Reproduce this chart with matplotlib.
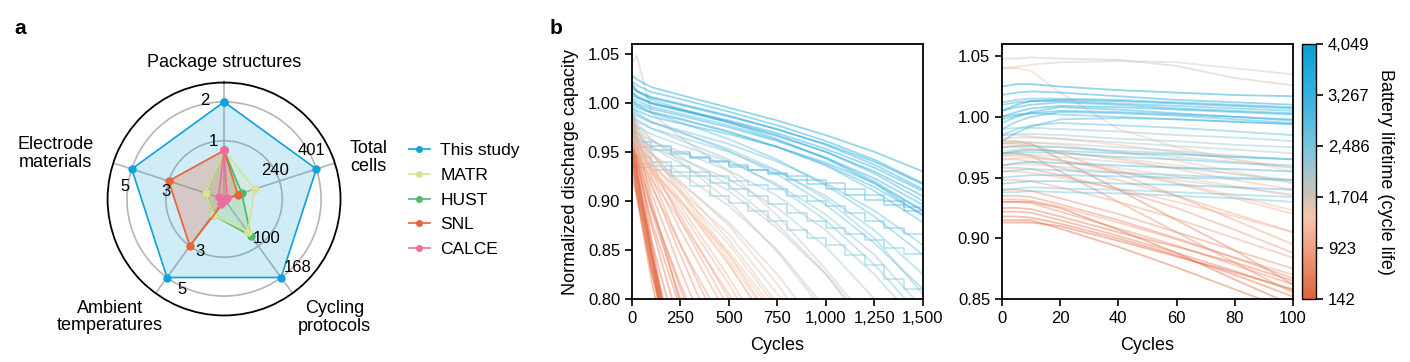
import matplotlib
matplotlib.use("Agg")
import matplotlib.pyplot as plt
import numpy as np
from matplotlib.colors import LinearSegmentedColormap, Normalize
from matplotlib.lines import Line2D
from matplotlib.ticker import FuncFormatter

plt.rcParams['font.family'] = ['Liberation Sans', 'DejaVu Sans']

# ---- panel a: radar data ----
categories = ['Package structures', 'Total cells', 'Cycling protocols',
              'Ambient temperatures', 'Electrode materials']
cat_max = [2, 401, 168, 5, 5]
ring_labels = [['1', '2'], ['240', '401'], ['100', '168'], ['3', '5'], ['3', '5']]
datasets = ['This study', 'MATR', 'HUST', 'SNL', 'CALCE']
ds_colors = ['#12a3db', '#d8e29a', '#4cba6b', '#e8643a', '#f06ca0']
this_study = [2, 401, 168, 5, 5]
matr = [1, 134, 70, 1, 1]
hust = [1, 77, 79, 1, 1]
snl = [1, 60, 3, 3, 3]
calce = [1, 13, 3, 0.3, 0.3]

# ---- panel b: capacity curves (cycles 0-1500) ----
cyc_long = [0, 25, 100, 250, 500, 750, 1000, 1250, 1500]
long_life = [3900, 3850, 3700, 3650, 3600, 3500, 3450, 3400, 3300, 3250, 3100,
             3050, 2900, 2850, 2700, 2650, 2500, 2450, 2400, 2300, 2200, 2100,
             2000, 1950, 1850, 1800, 1750, 1700, 1650, 1600, 1550, 1500, 1450,
             1400, 1350, 1300, 1250, 1200, 1150, 1100, 1050, 1000, 950, 900,
             850, 800, 750, 700, 650, 600, 550, 500, 450, 420, 400, 380, 350,
             320, 300, 270, 250, 220, 200, 180, 160, 150, 145, 142]
long_cap = [
    [1.028, 1.024, 1.016, 1.008, 0.995, 0.982, 0.967, 0.950, 0.930],
    [1.020, 1.012, 1.005, 0.998, 0.986, 0.973, 0.958, 0.940, 0.917],
    [1.022, 1.018, 1.011, 1.004, 0.991, 0.977, 0.961, 0.942, 0.918],
    [1.012, 1.006, 1.000, 0.993, 0.982, 0.969, 0.953, 0.934, 0.910],
    [1.008, 1.005, 0.999, 0.992, 0.980, 0.966, 0.950, 0.930, 0.905],
    [1.015, 1.012, 1.006, 0.999, 0.987, 0.973, 0.957, 0.937, 0.912],
    [1.003, 0.999, 0.994, 0.987, 0.975, 0.961, 0.944, 0.923, 0.896],
    [0.995, 0.992, 0.986, 0.979, 0.968, 0.955, 0.939, 0.918, 0.890],
    [1.010, 1.007, 1.000, 0.993, 0.981, 0.967, 0.950, 0.928, 0.900],
    [0.998, 0.995, 0.990, 0.983, 0.970, 0.955, 0.937, 0.914, 0.886],
    [1.005, 1.002, 0.996, 0.989, 0.977, 0.962, 0.944, 0.920, 0.890],
    [1.018, 1.012, 1.003, 0.994, 0.980, 0.963, 0.943, 0.918, 0.885],
    [1.000, 0.997, 0.991, 0.984, 0.971, 0.955, 0.936, 0.910, 0.878],
    [1.002, 0.998, 0.990, 0.980, 0.963, 0.942, 0.916, 0.884, 0.845],
    [0.990, 0.987, 0.980, 0.972, 0.958, 0.940, 0.918, 0.890, 0.855],
    [0.995, 0.990, 0.981, 0.970, 0.951, 0.927, 0.896, 0.857, 0.810],
    [0.985, 0.981, 0.974, 0.965, 0.950, 0.930, 0.905, 0.870, 0.825],
    [0.988, 0.983, 0.974, 0.962, 0.942, 0.915, 0.880, 0.835, 0.780],
    [0.992, 0.988, 0.980, 0.970, 0.953, 0.931, 0.902, 0.862, 0.805],
    [0.980, 0.976, 0.968, 0.957, 0.940, 0.917, 0.886, 0.845, 0.790],
    [0.975, 0.970, 0.961, 0.950, 0.931, 0.905, 0.870, 0.825, 0.770],
    [0.970, 0.965, 0.955, 0.943, 0.922, 0.893, 0.853, 0.800, 0.740],
    [0.975, 0.968, 0.955, 0.938, 0.910, 0.872, 0.825, 0.760],
    [0.982, 0.975, 0.962, 0.945, 0.916, 0.876, 0.826, 0.765],
    [0.970, 0.962, 0.948, 0.928, 0.895, 0.850, 0.790],
    [0.990, 0.980, 0.963, 0.940, 0.900, 0.848, 0.785],
    [1.040, 1.048, 0.990, 0.965, 0.930, 0.885, 0.830, 0.770],
    [0.968, 0.958, 0.942, 0.918, 0.878, 0.825, 0.760],
    [0.975, 0.965, 0.947, 0.920, 0.875, 0.815, 0.745],
    [0.965, 0.955, 0.937, 0.910, 0.866, 0.805, 0.740],
    [0.985, 0.972, 0.950, 0.916, 0.860, 0.795, 0.730],
    [0.972, 0.960, 0.940, 0.908, 0.856, 0.790, 0.720],
    [0.968, 0.955, 0.933, 0.900, 0.848, 0.785],
    [0.960, 0.950, 0.930, 0.898, 0.845, 0.780],
    [0.992, 0.978, 0.950, 0.908, 0.840, 0.770],
    [0.978, 0.965, 0.940, 0.902, 0.836, 0.760],
    [0.982, 0.970, 0.948, 0.912, 0.845, 0.770],
    [0.958, 0.950, 0.932, 0.900, 0.835, 0.760],
    [0.970, 0.958, 0.935, 0.895, 0.822, 0.740],
    [0.965, 0.955, 0.930, 0.890, 0.815, 0.730],
    [0.960, 0.948, 0.922, 0.880, 0.805, 0.720],
    [0.975, 0.962, 0.932, 0.885, 0.800],
    [0.995, 0.975, 0.940, 0.880, 0.790],
    [0.985, 0.965, 0.930, 0.870, 0.780],
    [0.970, 0.952, 0.915, 0.855, 0.765],
    [0.990, 0.968, 0.925, 0.855, 0.750],
    [0.988, 0.962, 0.918, 0.845, 0.730],
    [0.980, 0.955, 0.908, 0.830, 0.710],
    [0.965, 0.940, 0.892, 0.815, 0.700],
    [0.975, 0.948, 0.895, 0.810, 0.690],
    [0.985, 0.952, 0.890, 0.800],
    [0.970, 0.940, 0.880, 0.790],
    [0.995, 0.960, 0.900, 0.795],
    [0.975, 0.940, 0.875, 0.770],
    [0.960, 0.925, 0.860, 0.750],
    [0.945, 0.912, 0.848, 0.730],
    [0.955, 0.915, 0.845, 0.720],
    [0.965, 0.925, 0.845, 0.710],
    [0.975, 0.930, 0.850, 0.700],
    [0.985, 0.935, 0.845, 0.690],
    [0.950, 0.905, 0.820, 0.680],
    [0.960, 0.925, 0.850, 0.650],
    [0.945, 0.915, 0.840, 0.700],
    [0.975, 0.935, 0.850, 0.700],
    [0.935, 0.910, 0.830, 0.700],
    [0.955, 0.925, 0.835, 0.700],
    [0.990, 0.950, 0.860, 0.700],
    [0.925, 0.905, 0.830, 0.700],
]

# stepwise curves (periodic capacity checks), cycles 0,100,...,1500
cyc_step = [0, 100, 200, 300, 400, 500, 600, 700, 800, 900, 1000, 1100,
            1200, 1300, 1400, 1500]
step_life = [3200, 3000, 2800, 2700, 2600]
step_cap = [
    [0.960, 0.956, 0.950, 0.945, 0.941, 0.937, 0.932, 0.927, 0.921, 0.917, 0.912, 0.906, 0.901, 0.896, 0.890, 0.885],
    [0.955, 0.952, 0.948, 0.944, 0.940, 0.935, 0.932, 0.928, 0.925, 0.921, 0.918, 0.912, 0.906, 0.900, 0.894, 0.887],
    [0.945, 0.940, 0.936, 0.930, 0.925, 0.920, 0.916, 0.912, 0.905, 0.900, 0.895, 0.888, 0.880, 0.872, 0.866, 0.860],
    [0.935, 0.936, 0.930, 0.925, 0.918, 0.912, 0.905, 0.897, 0.888, 0.880, 0.872, 0.866, 0.860, 0.852, 0.846, 0.840],
    [0.938, 0.932, 0.925, 0.915, 0.905, 0.898, 0.890, 0.880, 0.870, 0.862, 0.855, 0.845, 0.835, 0.820, 0.810, 0.800],
]

# first 100 cycles
cyc_short = [0, 5, 10, 20, 40, 60, 80, 100]
short_life = [4000, 3950, 3800, 3750, 3600, 3550, 3500, 3400, 3350, 3300, 3200,
              3150, 3100, 3000, 2950, 2900, 2800, 2750, 2700, 2600, 2550, 2500,
              2350, 2200, 2100, 2000, 1900, 1800, 1750, 1700, 1650, 1600, 1500,
              1400, 1350, 1300, 1250, 1200, 1150, 1100, 1000, 950, 900, 850,
              800, 750, 700, 650, 600, 500, 450, 400, 300, 250, 200, 160]
short_cap = [
    [1.025, 1.027, 1.027, 1.025, 1.022, 1.020, 1.018, 1.017],
    [1.005, 1.010, 1.013, 1.014, 1.013, 1.011, 1.009, 1.007],
    [1.018, 1.020, 1.021, 1.020, 1.017, 1.014, 1.012, 1.010],
    [1.000, 1.004, 1.007, 1.009, 1.008, 1.006, 1.004, 1.002],
    [1.005, 1.008, 1.010, 1.012, 1.010, 1.007, 1.005, 1.003],
    [0.998, 1.001, 1.003, 1.005, 1.004, 1.002, 1.000, 0.997],
    [0.995, 1.000, 1.004, 1.008, 1.006, 1.003, 1.000, 0.998],
    [1.010, 1.012, 1.013, 1.013, 1.011, 1.009, 1.007, 1.005],
    [1.012, 1.014, 1.015, 1.015, 1.014, 1.012, 1.010, 1.008],
    [0.990, 0.996, 1.000, 1.004, 1.003, 1.001, 0.998, 0.995],
    [0.960, 0.962, 0.963, 0.962, 0.960, 0.958, 0.957, 0.955],
    [0.980, 0.987, 0.992, 0.998, 0.999, 0.998, 0.996, 0.994],
    [1.000, 1.002, 1.003, 1.002, 1.000, 0.998, 0.996, 0.994],
    [0.945, 0.946, 0.947, 0.947, 0.945, 0.944, 0.942, 0.940],
    [0.970, 0.972, 0.973, 0.972, 0.970, 0.969, 0.967, 0.965],
    [0.985, 0.990, 0.993, 0.995, 0.993, 0.991, 0.988, 0.985],
    [0.970, 0.971, 0.971, 0.970, 0.967, 0.965, 0.962, 0.960],
    [0.950, 0.951, 0.952, 0.952, 0.951, 0.950, 0.949, 0.948],
    [0.955, 0.956, 0.957, 0.956, 0.954, 0.952, 0.950, 0.948],
    [0.938, 0.938, 0.939, 0.938, 0.937, 0.935, 0.933, 0.930],
    [0.940, 0.941, 0.942, 0.941, 0.940, 0.938, 0.936, 0.934],
    [0.975, 0.976, 0.976, 0.975, 0.972, 0.970, 0.967, 0.965],
    [0.990, 0.991, 0.991, 0.990, 0.988, 0.985, 0.983, 0.980],
    [0.985, 0.986, 0.986, 0.985, 0.982, 0.980, 0.977, 0.975],
    [0.982, 0.983, 0.983, 0.982, 0.979, 0.976, 0.973, 0.970],
    [0.978, 0.979, 0.979, 0.978, 0.975, 0.972, 0.968, 0.965],
    [0.975, 0.976, 0.976, 0.975, 0.971, 0.967, 0.963, 0.958],
    [0.968, 0.969, 0.969, 0.967, 0.963, 0.958, 0.953, 0.948],
    [1.048, 1.048, 1.049, 1.048, 1.047, 1.042, 1.032, 1.026],
    [0.960, 0.961, 0.961, 0.959, 0.954, 0.948, 0.942, 0.936],
    [1.040, 1.041, 1.043, 1.045, 1.046, 1.045, 1.040, 1.035],
    [0.972, 0.973, 0.973, 0.971, 0.966, 0.960, 0.953, 0.946],
    [0.965, 0.966, 0.966, 0.964, 0.958, 0.951, 0.943, 0.935],
    [1.040, 1.040, 1.038, 1.020, 0.990, 0.975, 0.965, 0.955],
    [0.978, 0.979, 0.979, 0.977, 0.971, 0.964, 0.955, 0.945],
    [0.985, 0.985, 0.984, 0.982, 0.977, 0.971, 0.965, 0.958],
    [0.968, 0.968, 0.967, 0.964, 0.956, 0.946, 0.935, 0.923],
    [0.975, 0.975, 0.974, 0.971, 0.965, 0.957, 0.948, 0.940],
    [0.955, 0.955, 0.954, 0.950, 0.941, 0.930, 0.918, 0.905],
    [0.970, 0.970, 0.968, 0.964, 0.955, 0.945, 0.933, 0.920],
    [0.965, 0.965, 0.963, 0.958, 0.948, 0.935, 0.920, 0.905],
    [0.948, 0.948, 0.947, 0.942, 0.930, 0.916, 0.900, 0.884],
    [0.978, 0.978, 0.977, 0.970, 0.953, 0.935, 0.915, 0.895],
    [0.932, 0.932, 0.931, 0.926, 0.913, 0.899, 0.884, 0.870],
    [0.958, 0.958, 0.957, 0.952, 0.940, 0.925, 0.907, 0.888],
    [0.970, 0.970, 0.968, 0.955, 0.930, 0.905, 0.880, 0.855],
    [0.940, 0.940, 0.939, 0.933, 0.920, 0.905, 0.890, 0.875],
    [0.930, 0.930, 0.929, 0.922, 0.908, 0.894, 0.878, 0.862],
    [0.935, 0.935, 0.934, 0.928, 0.915, 0.900, 0.884, 0.867],
    [0.980, 0.980, 0.978, 0.965, 0.940, 0.915, 0.890, 0.862],
    [0.922, 0.922, 0.921, 0.915, 0.902, 0.888, 0.873, 0.857],
    [0.925, 0.925, 0.924, 0.918, 0.905, 0.893, 0.880, 0.865],
    [0.918, 0.918, 0.917, 0.912, 0.900, 0.886, 0.870, 0.852],
    [0.915, 0.915, 0.915, 0.908, 0.893, 0.876, 0.858, 0.840],
    [0.930, 0.930, 0.930, 0.925, 0.907, 0.888, 0.866, 0.845],
    [0.913, 0.913, 0.913, 0.910, 0.898, 0.885, 0.872, 0.858],
]

cbar_ticks = [142, 923, 1704, 2486, 3267, 4049]

cmap = LinearSegmentedColormap.from_list('life', [
    (0.0, '#e0623a'), (0.2, '#f0a084'), (0.32, '#f6c6aa'), (0.4, '#cdc3b7'),
    (0.5, '#a6c6cf'), (0.6, '#78c4dd'), (0.8, '#36b2e0'), (1.0, '#0a9fd6')])
norm = Normalize(142, 4049)

fig = plt.figure(figsize=(14.1, 3.62), dpi=100)

# ---------------- panel a ----------------
ax = fig.add_axes([0.0763, 0.1285, 0.1652, 0.6436], projection='polar')
ax.set_theta_offset(np.pi / 2)
ax.set_theta_direction(-1)
ax.set_ylim(0, 1.2)
ax.grid(False)
ax.set_xticks([])
ax.set_yticks([])
ax.spines['polar'].set_linewidth(1.3)

angles = np.deg2rad(np.arange(5) * 72)
circ = np.linspace(0, 2 * np.pi, 300)
for rr in [0.6, 1.0]:
    ax.plot(circ, np.full_like(circ, rr), color='#b5b5b5', lw=1.2, zorder=1)
for a in angles:
    ax.plot([a, a], [0, 1.2], color='#b5b5b5', lw=1.2, zorder=1)

series = dict(zip(datasets, [this_study, matr, hust, snl, calce]))
colors = dict(zip(datasets, ds_colors))
fill_alpha = {'This study': 0.2, 'HUST': 0.2, 'MATR': 0.2, 'SNL': 0.25,
              'CALCE': 0.2}
for name in ['This study', 'HUST', 'MATR', 'SNL', 'CALCE']:
    vals = series[name]
    r = [v / m for v, m in zip(vals, cat_max)]
    th = np.append(angles, angles[0])
    rr = np.append(r, r[0])
    ax.fill(th, rr, color=colors[name], alpha=fill_alpha[name], zorder=2)
    ax.plot(th, rr, color=colors[name], lw=1.2, marker='o', ms=5, zorder=3)

for a, labs in zip(angles, ring_labels):
    la = a - np.deg2rad(11)
    ax.text(la, 0.6, labs[0], ha='center', va='center', fontsize=12, zorder=4)
    ax.text(la, 1.03, labs[1], ha='center', va='center', fontsize=12, zorder=4)

cat_pos = [(0, 1.41), (74, 1.55), (137, 1.67), (224, 1.69), (285, 1.8)]
cat_text = ['Package structures', 'Total\ncells', 'Cycling\nprotocols',
            'Ambient\ntemperatures', 'Electrode\nmaterials']
for (deg, rad), t in zip(cat_pos, cat_text):
    ax.text(np.deg2rad(deg), rad, t, ha='center', va='center', fontsize=13,
            linespacing=1.05, clip_on=False)

handles = [Line2D([], [], color=c, marker='o', ms=4, lw=1.2) for c in ds_colors]
fig.legend(handles, datasets, loc='upper left', bbox_to_anchor=(0.279, 0.648),
           frameon=False, fontsize=12.5, handlelength=1.2, handletextpad=0.6,
           labelspacing=0.55)

fig.text(20 / 1410, 1 - 28 / 362, 'a', fontsize=15, fontweight='bold',
         ha='center', va='center')
fig.text(556 / 1410, 1 - 28 / 362, 'b', fontsize=15, fontweight='bold',
         ha='center', va='center')

# ---------------- panel b ----------------
axl = fig.add_axes([0.4482, 0.1740, 0.2064, 0.7044])
axr = fig.add_axes([0.7106, 0.1740, 0.2064, 0.7044])
cax = fig.add_axes([0.9234, 0.1740, 0.0099, 0.7044])

for i in np.argsort(step_life):
    axl.plot(cyc_step, step_cap[i], drawstyle='steps-post',
             color=cmap(norm(step_life[i])), lw=1.1, alpha=0.5)
for i in np.argsort(long_life):
    y = long_cap[i]
    axl.plot(cyc_long[:len(y)], y, color=cmap(norm(long_life[i])),
             lw=1.3, alpha=0.45)
for i in np.argsort(short_life):
    axr.plot(cyc_short, short_cap[i], color=cmap(norm(short_life[i])),
             lw=1.3, alpha=0.45)

axl.set_xlim(0, 1500)
axl.set_ylim(0.80, 1.06)
axl.set_xticks([0, 250, 500, 750, 1000, 1250, 1500])
axl.set_yticks([0.80, 0.85, 0.90, 0.95, 1.00, 1.05])
axr.set_xlim(0, 100)
axr.set_ylim(0.85, 1.06)
axr.set_xticks([0, 20, 40, 60, 80, 100])
axr.set_yticks([0.85, 0.90, 0.95, 1.00, 1.05])

comma = FuncFormatter(lambda v, p: f'{int(v):,}')
two = FuncFormatter(lambda v, p: f'{v:.2f}')
for a in (axl, axr):
    a.xaxis.set_major_formatter(comma)
    a.yaxis.set_major_formatter(two)
    a.tick_params(labelsize=12, length=5, width=1.2)
    for s in a.spines.values():
        s.set_linewidth(1.3)
    a.set_xlabel('Cycles', fontsize=13, labelpad=8)
axl.set_ylabel('Normalized discharge capacity', fontsize=13, labelpad=6)

sm = plt.cm.ScalarMappable(norm=norm, cmap=cmap)
cb = fig.colorbar(sm, cax=cax, ticks=cbar_ticks)
cb.ax.yaxis.set_major_formatter(comma)
cb.ax.tick_params(labelsize=12, length=5, width=1.2)
cb.outline.set_linewidth(1.0)
cb.set_label('Battery lifetime (cycle life)', fontsize=13, rotation=270,
             labelpad=18)

fig.savefig('out.png', dpi=100)
